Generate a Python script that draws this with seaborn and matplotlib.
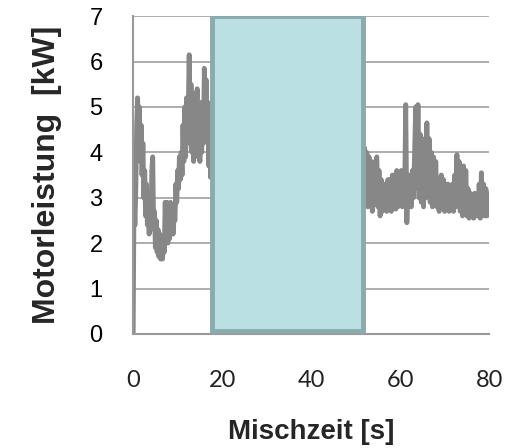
import numpy as np
import pandas as pd
import matplotlib
matplotlib.use("Agg")
import matplotlib.pyplot as plt
import seaborn as sns

# Motor power before the hidden section (0 - 18 s)
power_start = [0.0, 3.0, 2.4, 3.2, 4.6, 5.2, 4.3, 5.0, 3.8, 4.6,
               3.5, 4.2, 3.0, 3.6, 2.6, 3.3, 2.4, 3.0, 2.2, 2.8,
               2.3, 3.6, 3.9, 2.4, 2.7, 1.9, 2.5, 1.8, 2.3, 1.7,
               2.2, 1.65, 2.1, 1.65, 2.0, 1.8, 2.9, 2.2, 2.9, 2.0,
               2.8, 2.1, 2.9, 2.3, 2.8, 2.2, 2.6, 2.5, 3.3, 2.9,
               3.6, 3.2, 3.9, 3.4, 4.0, 3.5, 4.6, 3.8, 5.0, 3.9,
               5.2, 4.2, 5.0, 6.15, 4.4, 5.5, 4.0, 5.0, 3.8, 5.3,
               4.3, 5.0, 5.4, 3.9, 4.5, 3.8, 5.1, 4.0, 4.8, 4.2,
               5.85, 4.5, 5.6, 4.6, 5.1, 3.7, 4.7, 3.45, 5.0, 3.9,
               5.3]
time_start = np.linspace(0, 18, len(power_start))

# Motor power after the hidden section (52 - 80.5 s)
power_end = [4.1, 3.0, 4.0, 2.8, 3.9, 2.9, 3.8, 2.7, 3.7, 2.9,
             3.8, 3.9, 2.8, 3.6, 2.6, 3.4, 2.7, 3.3, 2.75, 3.3,
             2.7, 3.4, 2.8, 3.4, 2.7, 3.5, 2.8, 3.5, 2.75, 3.6,
             2.8, 3.5, 2.9, 3.6, 2.8, 3.5, 3.0, 5.05, 2.45, 3.3,
             2.9, 3.5, 2.8, 3.6, 3.0, 4.0, 5.0, 3.2, 5.05, 3.0,
             4.4, 2.9, 4.2, 2.8, 4.3, 3.0, 4.65, 3.1, 4.3, 2.9,
             4.0, 2.8, 3.9, 2.9, 3.8, 2.8, 3.4, 2.7, 3.3, 3.5,
             2.8, 3.4, 2.7, 3.3, 2.75, 3.3, 2.7, 3.2, 2.8, 3.3,
             2.7, 3.5, 2.8, 3.95, 3.0, 3.8, 2.7, 3.7, 2.6, 3.7,
             2.7, 3.6, 2.6, 3.2, 2.55, 3.1, 2.6, 3.0, 2.55, 3.1,
             2.6, 3.0, 2.6, 3.3, 2.55, 3.55, 2.7, 3.3, 2.6, 3.2,
             2.6, 3.1, 2.65, 3.1, 2.7]
time_end = np.linspace(52, 80.5, len(power_end))

# hidden section (box)
box_start = 17.8
box_end = 51.7

df1 = pd.DataFrame({"t": time_start, "p": power_start})
df2 = pd.DataFrame({"t": time_end, "p": power_end})

sns.set_theme(style="white")

fig = plt.figure(figsize=(5.16, 4.48), dpi=100)
ax = fig.add_axes([0.258, 0.2545, 0.69, 0.7095])

line_color = "#878787"
sns.lineplot(data=df1, x="t", y="p", ax=ax, color=line_color, lw=3.5, sort=False)
sns.lineplot(data=df2, x="t", y="p", ax=ax, color=line_color, lw=3.5, sort=False)

ax.axvspan(box_start, box_end, ymin=0.01, ymax=1.0, facecolor="#bbe0e3",
           edgecolor="#8aaaab", lw=3.5, zorder=5)

ax.set_xlim(0, 80)
ax.set_ylim(0, 7)
ax.set_xticks([0, 20, 40, 60, 80])
ax.set_yticks(range(0, 8))
ax.yaxis.grid(True, color="#a0a0a0", lw=1.2)
ax.set_axisbelow(True)

for s in ["top", "right"]:
    ax.spines[s].set_visible(False)
for s in ["left", "bottom"]:
    ax.spines[s].set_color("#999999")
    ax.spines[s].set_linewidth(1.5)

ax.tick_params(axis="both", length=0)
ax.tick_params(axis="y", pad=22)
ax.tick_params(axis="x", pad=26)
for lab in ax.get_yticklabels():
    lab.set_family(["Liberation Sans", "DejaVu Sans"])
    lab.set_fontsize(17)
    lab.set_color("black")
for lab in ax.get_xticklabels():
    lab.set_family(["Lato", "DejaVu Sans"])
    lab.set_fontsize(17)
    lab.set_color("#222222")

ax.set_xlabel("Mischzeit [s]", fontsize=20, fontweight="bold",
              family=["Liberation Sans", "DejaVu Sans"], labelpad=20)
ax.set_ylabel("Motorleistung  [kW]", fontsize=23, fontweight="bold",
              family=["Liberation Sans", "DejaVu Sans"], labelpad=20)

fig.savefig("out.png", dpi=100)
